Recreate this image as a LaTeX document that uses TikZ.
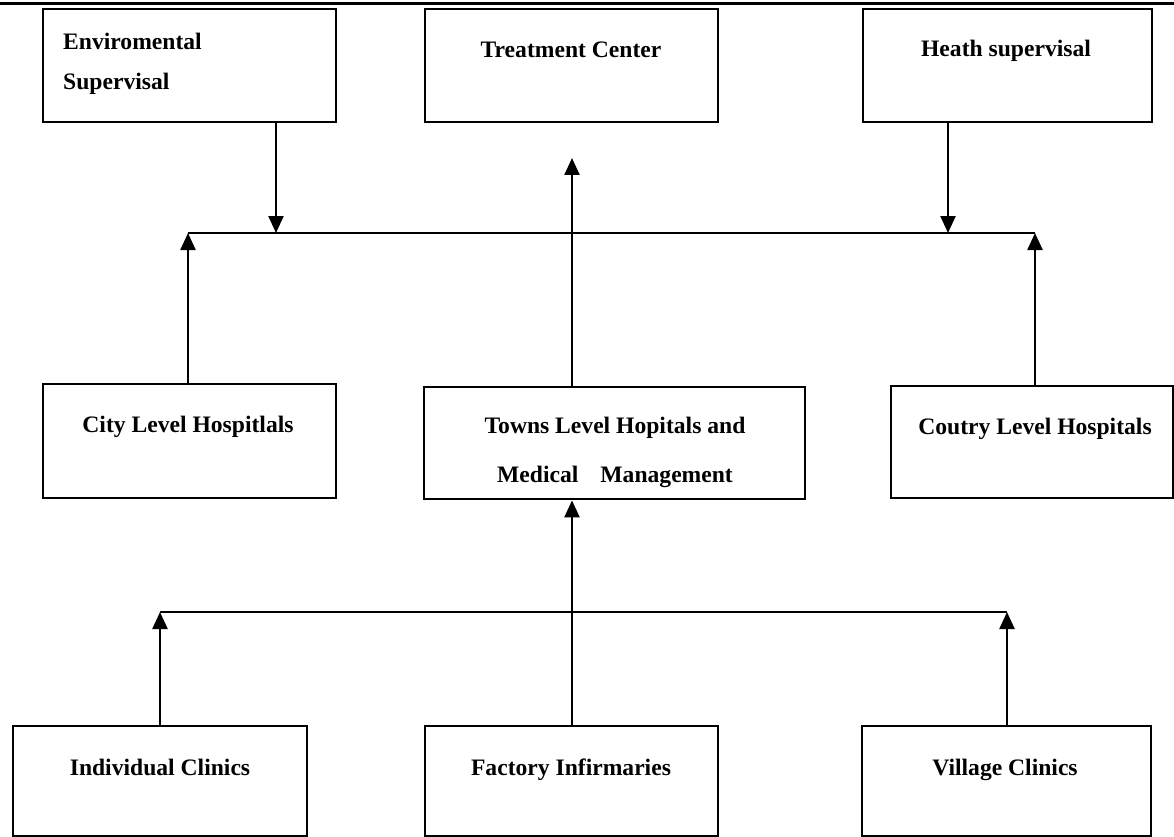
\documentclass[tikz,border=0pt]{standalone}
\usepackage{fontspec}
\setmainfont{Liberation Serif}
\usetikzlibrary{arrows.meta}
\begin{document}
\begin{tikzpicture}[x=1pt,y=-1pt,
  box/.style={draw, line width=2.4pt, anchor=north west, inner sep=0pt},
  lbl/.style={font=\fontsize{23.6}{28}\selectfont\bfseries, inner sep=0pt},
  link/.style={line width=2.4pt},
  arr/.style={line width=2.4pt, -{Triangle[width=15pt,length=17pt]}}]
\useasboundingbox (0,0) rectangle (1174,837);
% rule across the top
\coordinate (rl) at (0,4);
\coordinate (rr) at (1174,4);
\draw[line width=3pt] (rl) -- (rr);

% top row
\node[box, minimum width=293pt, minimum height=113pt] (env) at (42,8) {};
\node[box, minimum width=293pt, minimum height=113pt] (treat) at (424,8) {};
\node[box, minimum width=289pt, minimum height=113pt] (heath) at (862,8) {};
\node[lbl, anchor=base west] (envA) at (63,50) {Enviromental};
\node[lbl, anchor=base west] (envB) at (63,90) {Supervisal};
\node[lbl, anchor=base] (treatT) at (571,58) {Treatment Center};
\node[lbl, anchor=base] (heathT) at (1006,57) {Heath supervisal};

% middle row
\node[box, minimum width=293pt, minimum height=114pt] (city) at (42,383) {};
\node[box, minimum width=381pt, minimum height=112pt] (towns) at (423,386) {};
\node[box, minimum width=282pt, minimum height=112pt] (coutry) at (890,385) {};
\node[lbl, anchor=base] (cityT) at (188,432) {City Level Hospitlals};
\node[lbl, anchor=base] (townsA) at (615,433) {Towns Level Hopitals and};
\node[lbl, anchor=base] (townsB) at (615,482) {Medical\hspace{22pt}Management};
\node[lbl, anchor=base] (coutryT) at (1035,434) {Coutry Level Hospitals};

% bottom row
\node[box, minimum width=294pt, minimum height=110pt] (indiv) at (12,725) {};
\node[box, minimum width=293pt, minimum height=110pt] (fact) at (424,725) {};
\node[box, minimum width=289pt, minimum height=110pt] (vill) at (861,725) {};
\node[lbl, anchor=base] (indivT) at (160,775) {Individual Clinics};
\node[lbl, anchor=base] (factT) at (571,775) {Factory Infirmaries};
\node[lbl, anchor=base] (villT) at (1005,775) {Village Clinics};

% junction points of the two bus lines
\coordinate (ua) at (188,233);
\coordinate (ub) at (276,233);
\coordinate (uc) at (948,233);
\coordinate (ud) at (1035,233);
\coordinate (up) at (572,158);
\coordinate (mid) at (572,600);
\coordinate (la) at (160,612);
\coordinate (lb) at (1007,612);

% upper bus
\draw[link] (ua) -- (ud);
\draw[arr] (env.south -| ub) -- (ub);
\draw[arr] (heath.south -| uc) -- (uc);
\draw[arr] (city.north -| ua) -- (ua);
\draw[arr] (coutry.north -| ud) -- (ud);
\draw[arr] (towns.north -| up) -- (up);

% lower bus
\draw[link] (la) -- (lb);
\draw[arr] (indiv.north -| la) -- (la);
\draw[arr] (vill.north -| lb) -- (lb);
\draw[arr] (fact.north -| mid) -- (towns.south -| mid);
\end{tikzpicture}
\end{document}
